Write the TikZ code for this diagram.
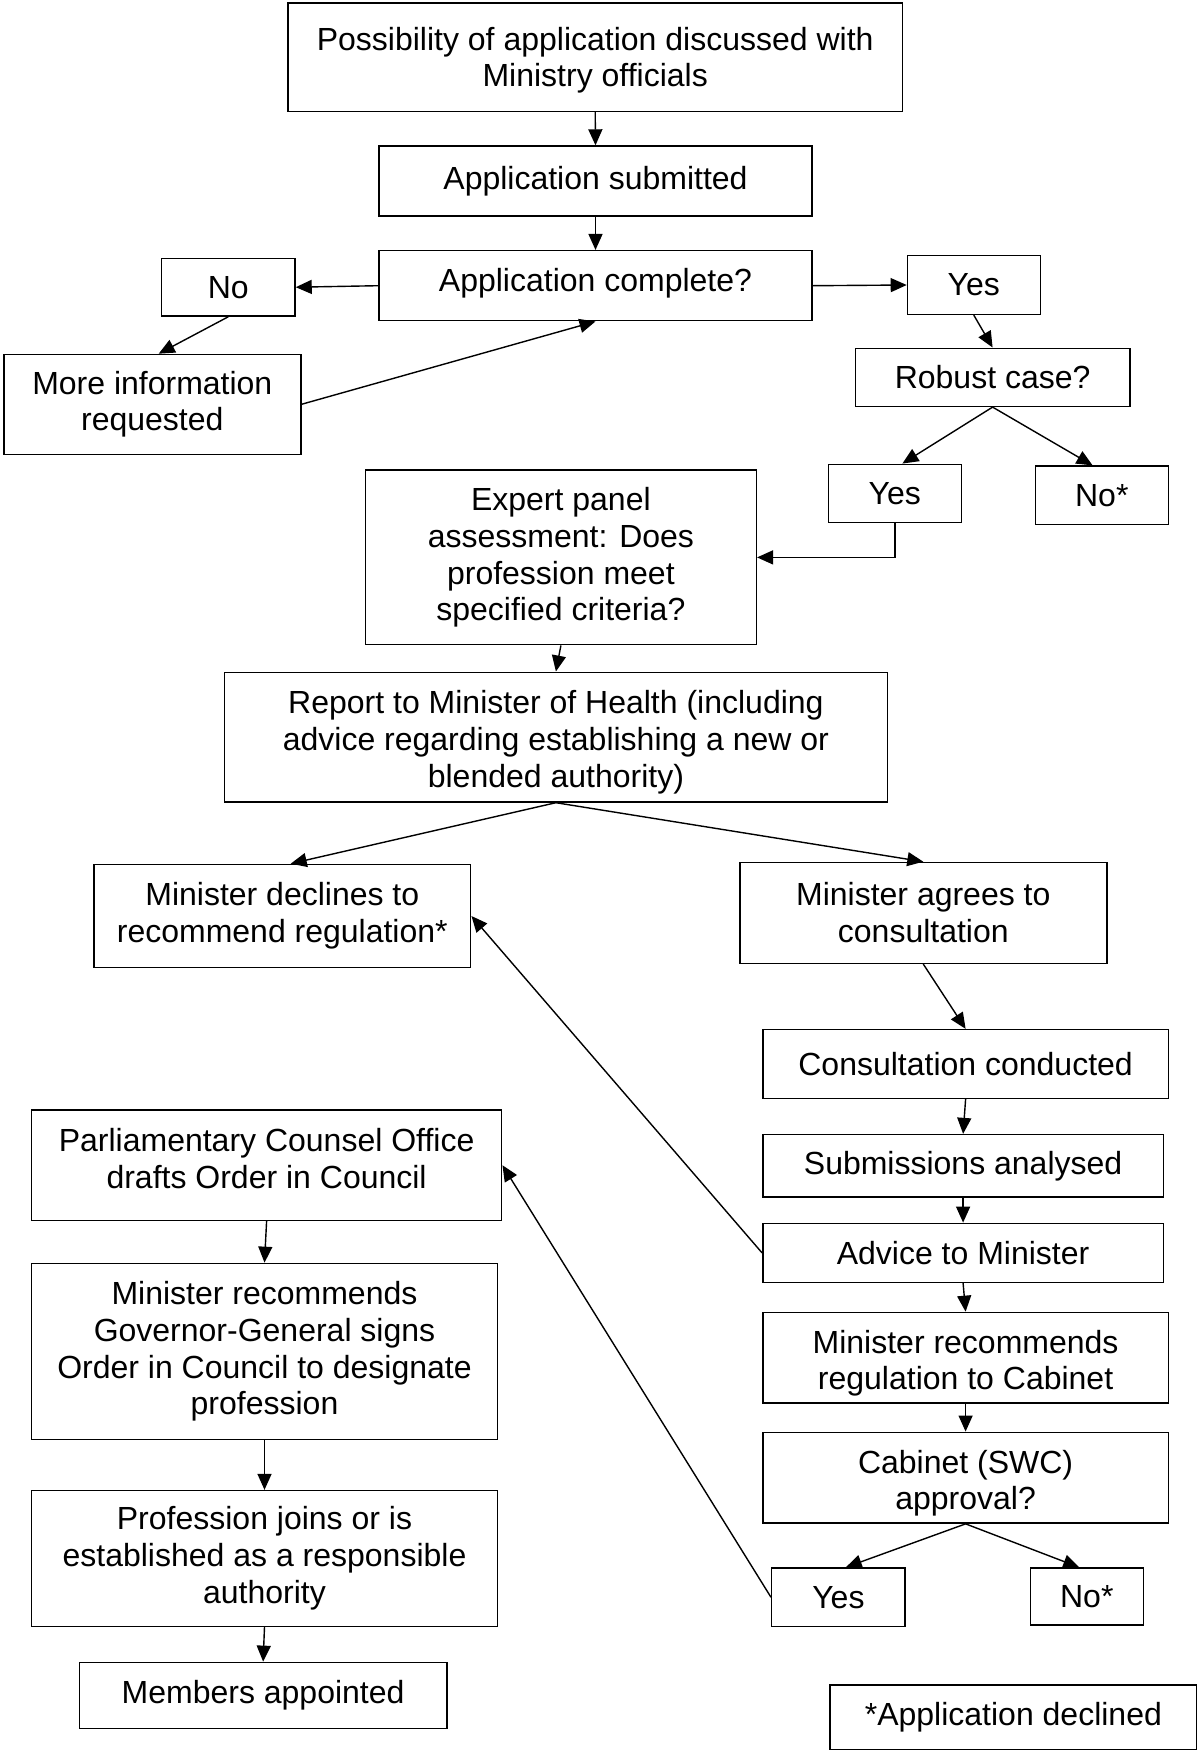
\documentclass[tikz,border=0pt]{standalone}
\usepackage{fontspec}
\setmainfont{Liberation Sans}
\usetikzlibrary{arrows.meta,calc}
\begin{document}
\begin{tikzpicture}[x=0.5pt,y=-0.5pt,
  box/.style={draw,line width=0.7pt,inner sep=0pt,align=center,font=\fontsize{16}{18.4}\selectfont},
  lbl/.style={inner sep=0pt,align=center,font=\fontsize{16}{18.4}\selectfont},
  sz/.style 2 args={minimum width=#1*0.5pt,minimum height=#2*0.5pt},
  arr/.style={line width=0.7pt,-{Triangle[width=7pt,length=8pt]}}]
\fill[white] (0,0) rectangle (1199,1751);
\useasboundingbox (0,0) rectangle (1199,1751);
% nodes
\node[box,sz={614.7}{108.4},label={[lbl,yshift=-1.5pt]center:{Possibility of application discussed with\\Ministry officials}}] (b1) at (595.2,57.2) {};
\node[box,sz={433}{70}] (b2) at (595.5,181) {Application submitted};
\node[box,sz={433}{70.1},label={[lbl,yshift=1pt]center:{Application complete?}}] (b3) at (595.5,285.7) {};
\node[box,sz={133.5}{57.7}] (no1) at (228.3,287.2) {No};
\node[box,sz={297}{99.8}] (more) at (152.3,404.3) {More information\\requested};
\node[box,sz={132.8}{58.9}] (yes1) at (973.8,285) {Yes};
\node[box,sz={274.4}{58.2}] (robust) at (992.6,377.3) {Robust case?};
\node[box,sz={133.2}{58.1}] (yes2) at (894.8,493.3) {Yes};
\node[box,sz={133.2}{58.2}] (no2) at (1101.8,495.2) {No*};
\node[box,sz={390.9}{174.7}] (expert) at (560.9,557.4) {Expert panel\\assessment: Does\\profession meet\\specified criteria?};
\node[box,sz={662.6}{129.8},label={[lbl,yshift=-2.6pt]center:{Report to Minister of Health (including\\advice regarding establishing a new or\\blended authority)}}] (report) at (555.9,737.1) {};
\node[box,sz={376.9}{103.3}] (declines) at (282.3,916) {Minister declines to\\recommend regulation*};
\node[box,sz={367}{101}] (agrees) at (923.3,912.9) {Minister agrees to\\consultation};
\node[box,sz={405.6}{68.9}] (cons) at (965.6,1064) {Consultation conducted};
\node[box,sz={400.6}{62.5}] (subm) at (963.1,1165.8) {Submissions analysed};
\node[box,sz={400.6}{59.2}] (advice) at (963.1,1252.9) {Advice to Minister};
\node[box,sz={405.6}{90.5},label={[lbl,yshift=-2.8pt]center:{Minister recommends\\regulation to Cabinet}}] (minrec) at (965.6,1357.6) {};
\node[box,sz={405.6}{90.9},label={[lbl,yshift=-2.8pt]center:{Cabinet (SWC)\\approval?}}] (cabinet) at (965.6,1477.7) {};
\node[box,sz={133.5}{58.4}] (yes3) at (838.4,1597.2) {Yes};
\node[box,sz={112.9}{56.9}] (no3) at (1086.8,1596.5) {No*};
\node[box,sz={470.3}{110.3},label={[lbl,yshift=3.4pt]center:{Parliamentary Counsel Office\\drafts Order in Council}}] (parl) at (266.6,1165.2) {};
\node[box,sz={466.1}{176.1}] (mingg) at (264.5,1351.4) {Minister recommends\\Governor-General signs\\Order in Council to designate\\profession};
\node[box,sz={466.1}{135.7}] (prof) at (264.5,1558.4) {Profession joins or is\\established as a responsible\\authority};
\node[box,sz={367.8}{66.2}] (members) at (263.1,1695.4) {Members appointed};
\node[box,sz={366.6}{64.6}] (legend) at (1013.4,1717.3) {*Application declined};
% connectors
\draw[arr] (b1.south) -- (b2.north);
\draw[arr] (b2.south) -- (b3.north);
\draw[arr] (b3.west) -- (no1.east);
\draw[arr] (no1.south) -- ([xshift=3.2pt]more.north);
\draw[arr] (more.east) -- (b3.south);
\draw[arr] (b3.east) -- (yes1.west);
\draw[arr] (yes1.south) -- (robust.north);
\draw[arr] (robust.south) -- ([xshift=3.8pt]yes2.north);
\draw[arr] (robust.south) -- ([xshift=-4.6pt]no2.north);
\draw[arr] (yes2.south) |- (expert.east);
\draw[arr] (expert.south) -- (report.north);
\draw[arr] (report.south) -- ([xshift=4.2pt]declines.north);
\draw[arr] (report.south) -- (agrees.north);
\draw[arr] (agrees.south) -- (cons.north);
\draw[arr] (cons.south) -- (subm.north);
\draw[arr] (subm.south) -- (advice.north);
\draw[arr] (advice.south) -- (minrec.north);
\draw[arr] (minrec.south) -- (cabinet.north);
\draw[arr] (cabinet.south) -- ([xshift=3.7pt]yes3.north);
\draw[arr] (cabinet.south) -- ([xshift=-3.8pt]no3.north);
\draw[arr] (advice.west) -- (declines.east);
\draw[arr] (yes3.west) -- (parl.east);
\draw[arr] (parl.south) -- (mingg.north);
\draw[arr] (mingg.south) -- (prof.north);
\draw[arr] (prof.south) -- (members.north);
\end{tikzpicture}
\end{document}
